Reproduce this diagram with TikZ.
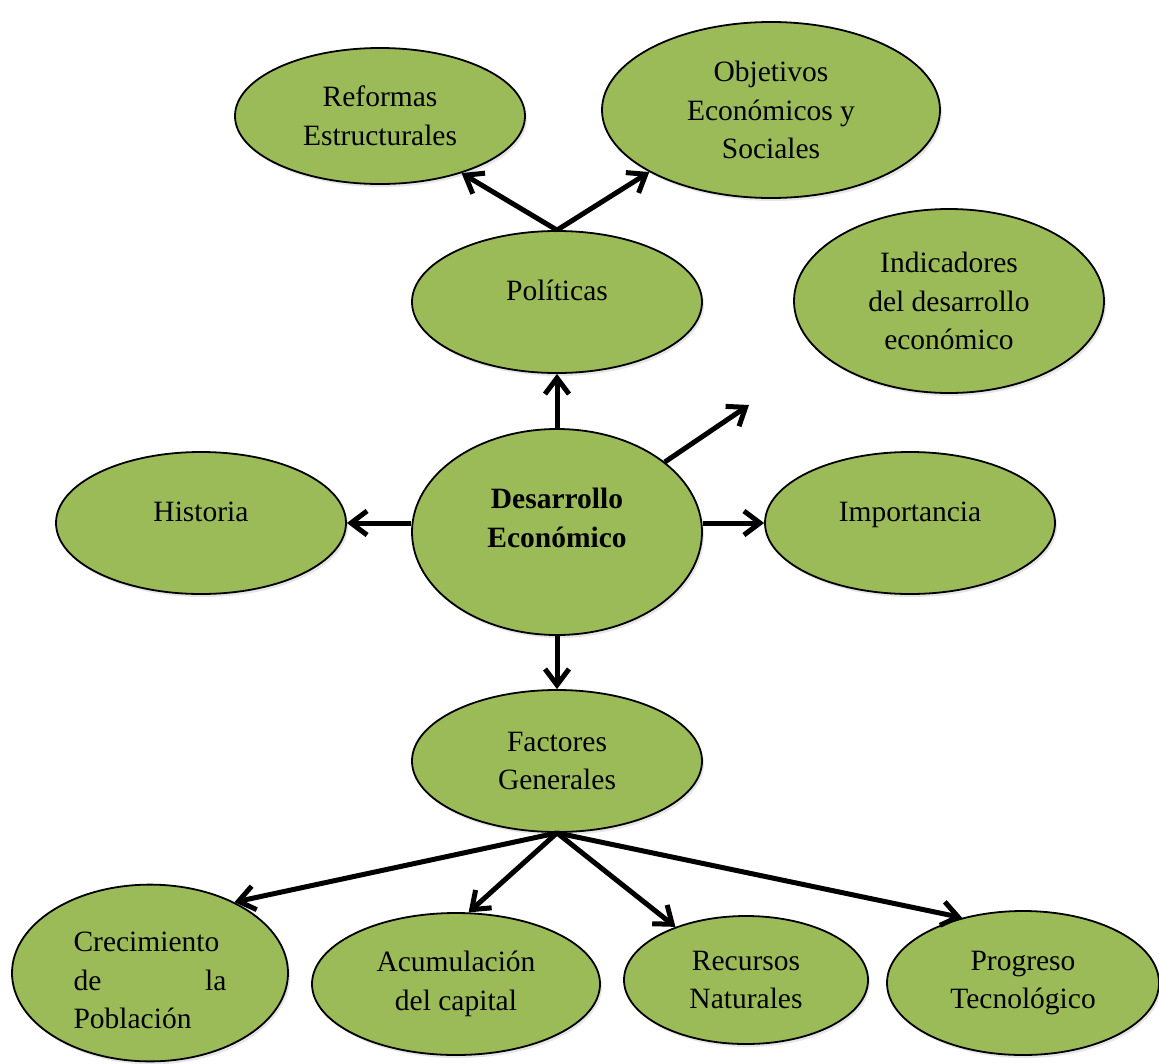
\documentclass[tikz,border=0pt]{standalone}
\usepackage{fontspec}
\setmainfont{Liberation Serif}
\usetikzlibrary{arrows.meta,shapes.geometric,shadows}
\definecolor{verde}{HTML}{9BBB59}

\begin{document}
\begin{tikzpicture}[x=1pt,y=-1pt,->,>={Straight Barb[length=16pt,width=24pt]},
    line width=5pt,
    blob/.style={ellipse,draw,fill=verde,line width=1.8pt,inner sep=0pt,
      align=center,font=\fontsize{29.5}{38.5}\selectfont,
      drop shadow={shadow xshift=2pt,shadow yshift=-3pt,opacity=0.2}},
    uno/.style={text height=20pt,text depth=24pt}]

  \useasboundingbox (0,0) rectangle (1159,1063);

  \node[blob,minimum width=290pt,minimum height=136pt] (ref) at (380,116) {Reformas\\Estructurales};
  \node[blob,minimum width=338pt,minimum height=176pt] (obj) at (771,110) {Objetivos\\Económicos y\\Sociales};
  \node[blob,uno,minimum width=290pt,minimum height=142pt] (pol) at (557,302) {Políticas};
  \node[blob,minimum width=310pt,minimum height=184pt] (ind) at (949,301) {Indicadores\\del desarrollo\\económico};
  \node[blob,uno,minimum width=290pt,minimum height=142pt] (his) at (201,523) {Historia};
  \node[blob,text height=58pt,text depth=28pt,minimum width=290pt,minimum height=206pt] (des) at (557,532)
    {\textbf{Desarrollo}\\\textbf{Económico}};
  \node[blob,uno,minimum width=290pt,minimum height=142pt] (imp) at (910,523) {Importancia};
  \node[blob,minimum width=290pt,minimum height=142pt] (fac) at (557,761) {Factores\\Generales};
  \node[blob,align=justify,text width=153pt,text height=41pt,text depth=84pt,
    minimum width=276pt,minimum height=176pt] (cre) at (150,973)
    {\hyphenpenalty=10000 \tolerance=10000 \hbadness=10000 Crecimiento de la Población};
  \node[blob,minimum width=288pt,minimum height=142pt] (acu) at (456,984) {Acumulación\\del capital};
  \node[blob,minimum width=244pt,minimum height=128pt] (rec) at (746,980) {Recursos\\Naturales};
  \node[blob,minimum width=272pt,minimum height=144pt] (pro) at (1023,983) {Progreso\\Tecnológico};

  \coordinate (hacia_ind) at (749,405);

  \path (pol.north) edge (ref.-35)
        (pol.north) edge (obj.-153)
        (des.north) edge (pol.south)
        (des.33) edge (hacia_ind)
        (his.east -| des.west) edge (his.east)
        (imp.west -| des.east) edge (imp.west)
        (des.south) edge (fac.north)
        (fac.south) edge (cre.40)
        (fac.south) edge (acu.80)
        (fac.south) edge (rec.143)
        (fac.south) edge (pro.133);

\end{tikzpicture}
\end{document}
